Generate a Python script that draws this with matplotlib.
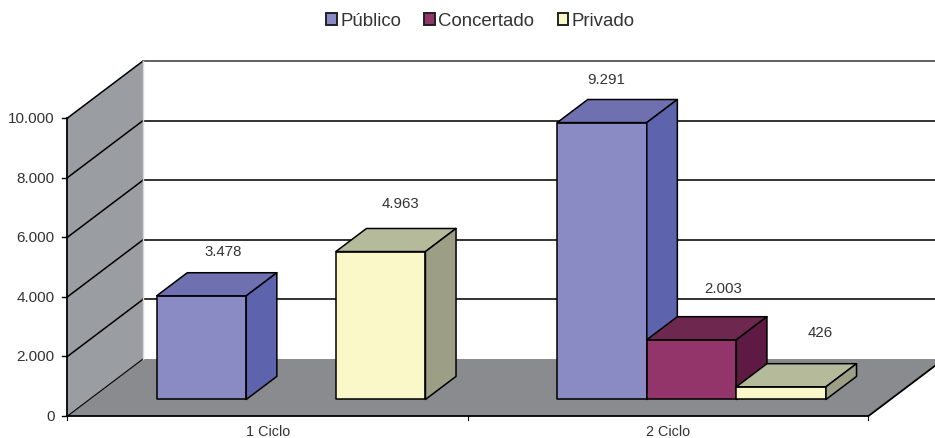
import matplotlib
matplotlib.use("Agg")
import matplotlib.pyplot as plt
from matplotlib.patches import Polygon, Patch

plt.rcParams['font.family'] = ['Liberation Sans', 'DejaVu Sans']

# ---- data ----
categories = ['1 Ciclo', '2 Ciclo']
series_names = ['Público', 'Concertado', 'Privado']
publico = [3478, 9291]
concertado = [0, 2003]
privado = [4963, 426]
value_labels = [['3.478', '9.291'], [None, '2.003'], ['4.963', '426']]
y_ticks = [0, 2000, 4000, 6000, 8000, 10000]
y_tick_labels = ['0', '2.000', '4.000', '6.000', '8.000', '10.000']

# ---- style ----
W, H = 935, 439
X0, X_UNIT = 67.5, 400.5      # px of category origin / px per category
Y0, Y_UNIT = 417.0, 0.0298    # px of value 0 / px per value unit
DX, DY = 75.5, 57.0           # full depth offset in px
BAR_W = 0.2237
GAP = 0.168
D_FRONT, D_BACK = 0.29, 0.695
faces = [('#8A8BC4', '#6E70B0', '#5D63AC'),
         ('#93346A', '#6E2850', '#5E1A43'),
         ('#FAF8C8', '#B5BA9A', '#9C9F85')]
wall_c, floor_c = '#9A9DA1', '#8A8B8E'
txt_c = '#333333'
# label offsets (px right of bar centre, px above bar top)
label_off = [[(22, 45), (4, 44)], [None, (32, 52)], [(20, 49), (39, 55)]]

fig = plt.figure(figsize=(W / 100, H / 100), dpi=100)
ax = fig.add_axes([0, 0, 1, 1])
ax.set_xlim(-X0 / X_UNIT, (W - X0) / X_UNIT)
ax.set_ylim((Y0 - H) / Y_UNIT, Y0 / Y_UNIT)
ax.axis('off')


def pr(x, v, d=0.0):
    """Oblique projection: category x, value v, depth d (0..1) -> data coords."""
    return (x + d * DX / X_UNIT, v + d * DY / Y_UNIT)


def poly(pts, fc, z, lw=1.1, ec='black'):
    ax.add_patch(Polygon(pts, closed=True, fc=fc, ec=ec, lw=lw, zorder=z, joinstyle='round'))


n_cat = len(categories)
top = y_ticks[-1]
xmax = ax.get_xlim()[1] + 1

# floor + side wall
poly([pr(0, 0), pr(n_cat, 0), pr(n_cat, 0, 1), pr(0, 0, 1)], floor_c, 1, lw=0)
poly([pr(0, 0), pr(0, 0, 1), pr(0, top, 1), pr(0, top)], wall_c, 1, lw=0)

# grid
for i, t in enumerate(y_ticks):
    if t > 0:
        ax.plot(*zip(pr(0, t), pr(0, t, 1)), color='black', lw=1.1, zorder=2)
        ax.plot(*zip(pr(0, t, 1), pr(xmax, t, 1)), color='#222222' if t < top else '#555555',
                lw=1.3, zorder=2)
    ax.plot(*zip(pr(0, t), (pr(0, t)[0] - 5 / X_UNIT, t)), color='black', lw=1, zorder=2)
    ax.text(pr(0, t)[0] - 13 / X_UNIT, t, y_tick_labels[i], ha='right', va='center',
            fontsize=11, color=txt_c)

ax.plot(*zip(pr(0, 0), pr(0, 0, 1)), color='black', lw=0.8, zorder=2)
ax.plot(*zip(pr(0, 0, 1), pr(0, top, 1)), color='#D8D8D8', lw=1.0, zorder=2)
ax.plot(*zip(pr(0, 0), pr(0, top)), color='black', lw=1.3, zorder=3)
ax.plot(*zip(pr(0, 0), pr(n_cat, 0)), color='black', lw=1.3, zorder=3)
ax.plot(*zip(pr(n_cat, 0), pr(n_cat, 0, 1)), color='black', lw=1.3, zorder=3)

# category axis
for k in range(n_cat + 1):
    ax.plot([k, k], [0, -3.5 / Y_UNIT], color='black', lw=0.8, zorder=2)
for k, c in enumerate(categories):
    ax.text(k + 0.5, -15.5 / Y_UNIT, c, ha='center', va='center', fontsize=10.4, color=txt_c)

# bars
all_values = [publico, concertado, privado]
z = 5
for k in range(n_cat):
    for s, vals in enumerate(all_values):
        v = vals[k]
        if v <= 0:
            continue
        xl = k + GAP + s * BAR_W
        xr = xl + BAR_W
        front, topc, side = faces[s]
        poly([pr(xl, 0, D_FRONT), pr(xr, 0, D_FRONT), pr(xr, v, D_FRONT), pr(xl, v, D_FRONT)], front, z)
        poly([pr(xl, v, D_FRONT), pr(xr, v, D_FRONT), pr(xr, v, D_BACK), pr(xl, v, D_BACK)], topc, z)
        poly([pr(xr, 0, D_FRONT), pr(xr, 0, D_BACK), pr(xr, v, D_BACK), pr(xr, v, D_FRONT)], side, z)
        z += 1
        ox, oy = label_off[s][k]
        cx, cy = pr((xl + xr) / 2, v, D_FRONT)
        ax.annotate(value_labels[s][k], (cx, cy), xytext=(ox * 0.72, oy * 0.72),
                    textcoords='offset points', ha='center', va='center',
                    fontsize=10.8, color=txt_c, zorder=20)

# legend
handles = [Patch(fc=f[0], ec='#222222', lw=1.4, label=nm) for f, nm in zip(faces, series_names)]
fig.legend(handles=handles, loc='center', bbox_to_anchor=(480.5 / W, 1 - 22 / H), ncol=3,
           frameon=False, fontsize=13.4, handlelength=0.55, handleheight=0.55,
           handletextpad=0.2, columnspacing=1.25, labelcolor=txt_c, borderpad=0, borderaxespad=0)

fig.savefig('out.png', dpi=100)
